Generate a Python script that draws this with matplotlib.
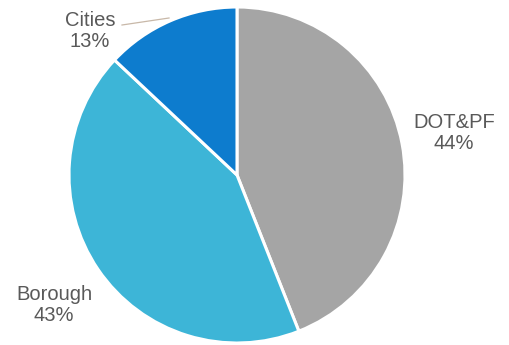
import matplotlib
matplotlib.use("Agg")
import matplotlib.pyplot as plt

categories = ["DOT&PF", "Borough", "Cities"]
shares = [44, 43, 13]
colors = ["#A5A5A5", "#3DB5D7", "#0D7CCE"]

plt.rcParams['font.family'] = ['Liberation Sans', 'DejaVu Sans']

fig = plt.figure(figsize=(5.10, 3.45), dpi=100)
ax = fig.add_axes([0, 0, 1, 1])

H = 345
cx, cy, r = 237, H - 175, 168
ax.pie(shares, colors=colors, startangle=90, counterclock=False,
       center=(cx, cy), radius=r,
       wedgeprops=dict(edgecolor='white', linewidth=2.2))
ax.set_xlim(0, 510)
ax.set_ylim(0, H)
ax.set_aspect('equal')
ax.axis('off')

label_pos = {"DOT&PF": (454, H - 133), "Borough": (54, H - 305), "Cities": (90, H - 31)}
for name, val in zip(categories, shares):
    x, y = label_pos[name]
    ax.text(x, y, f"{name}\n{val}%", ha='center', va='center', fontsize=14.5,
            color='#595959', linespacing=1.1)

# leader line for the small slice
ax.plot([122, 169], [H - 25, H - 18], color='#C8B8A8', lw=0.9)

fig.savefig("out.png", dpi=100)
